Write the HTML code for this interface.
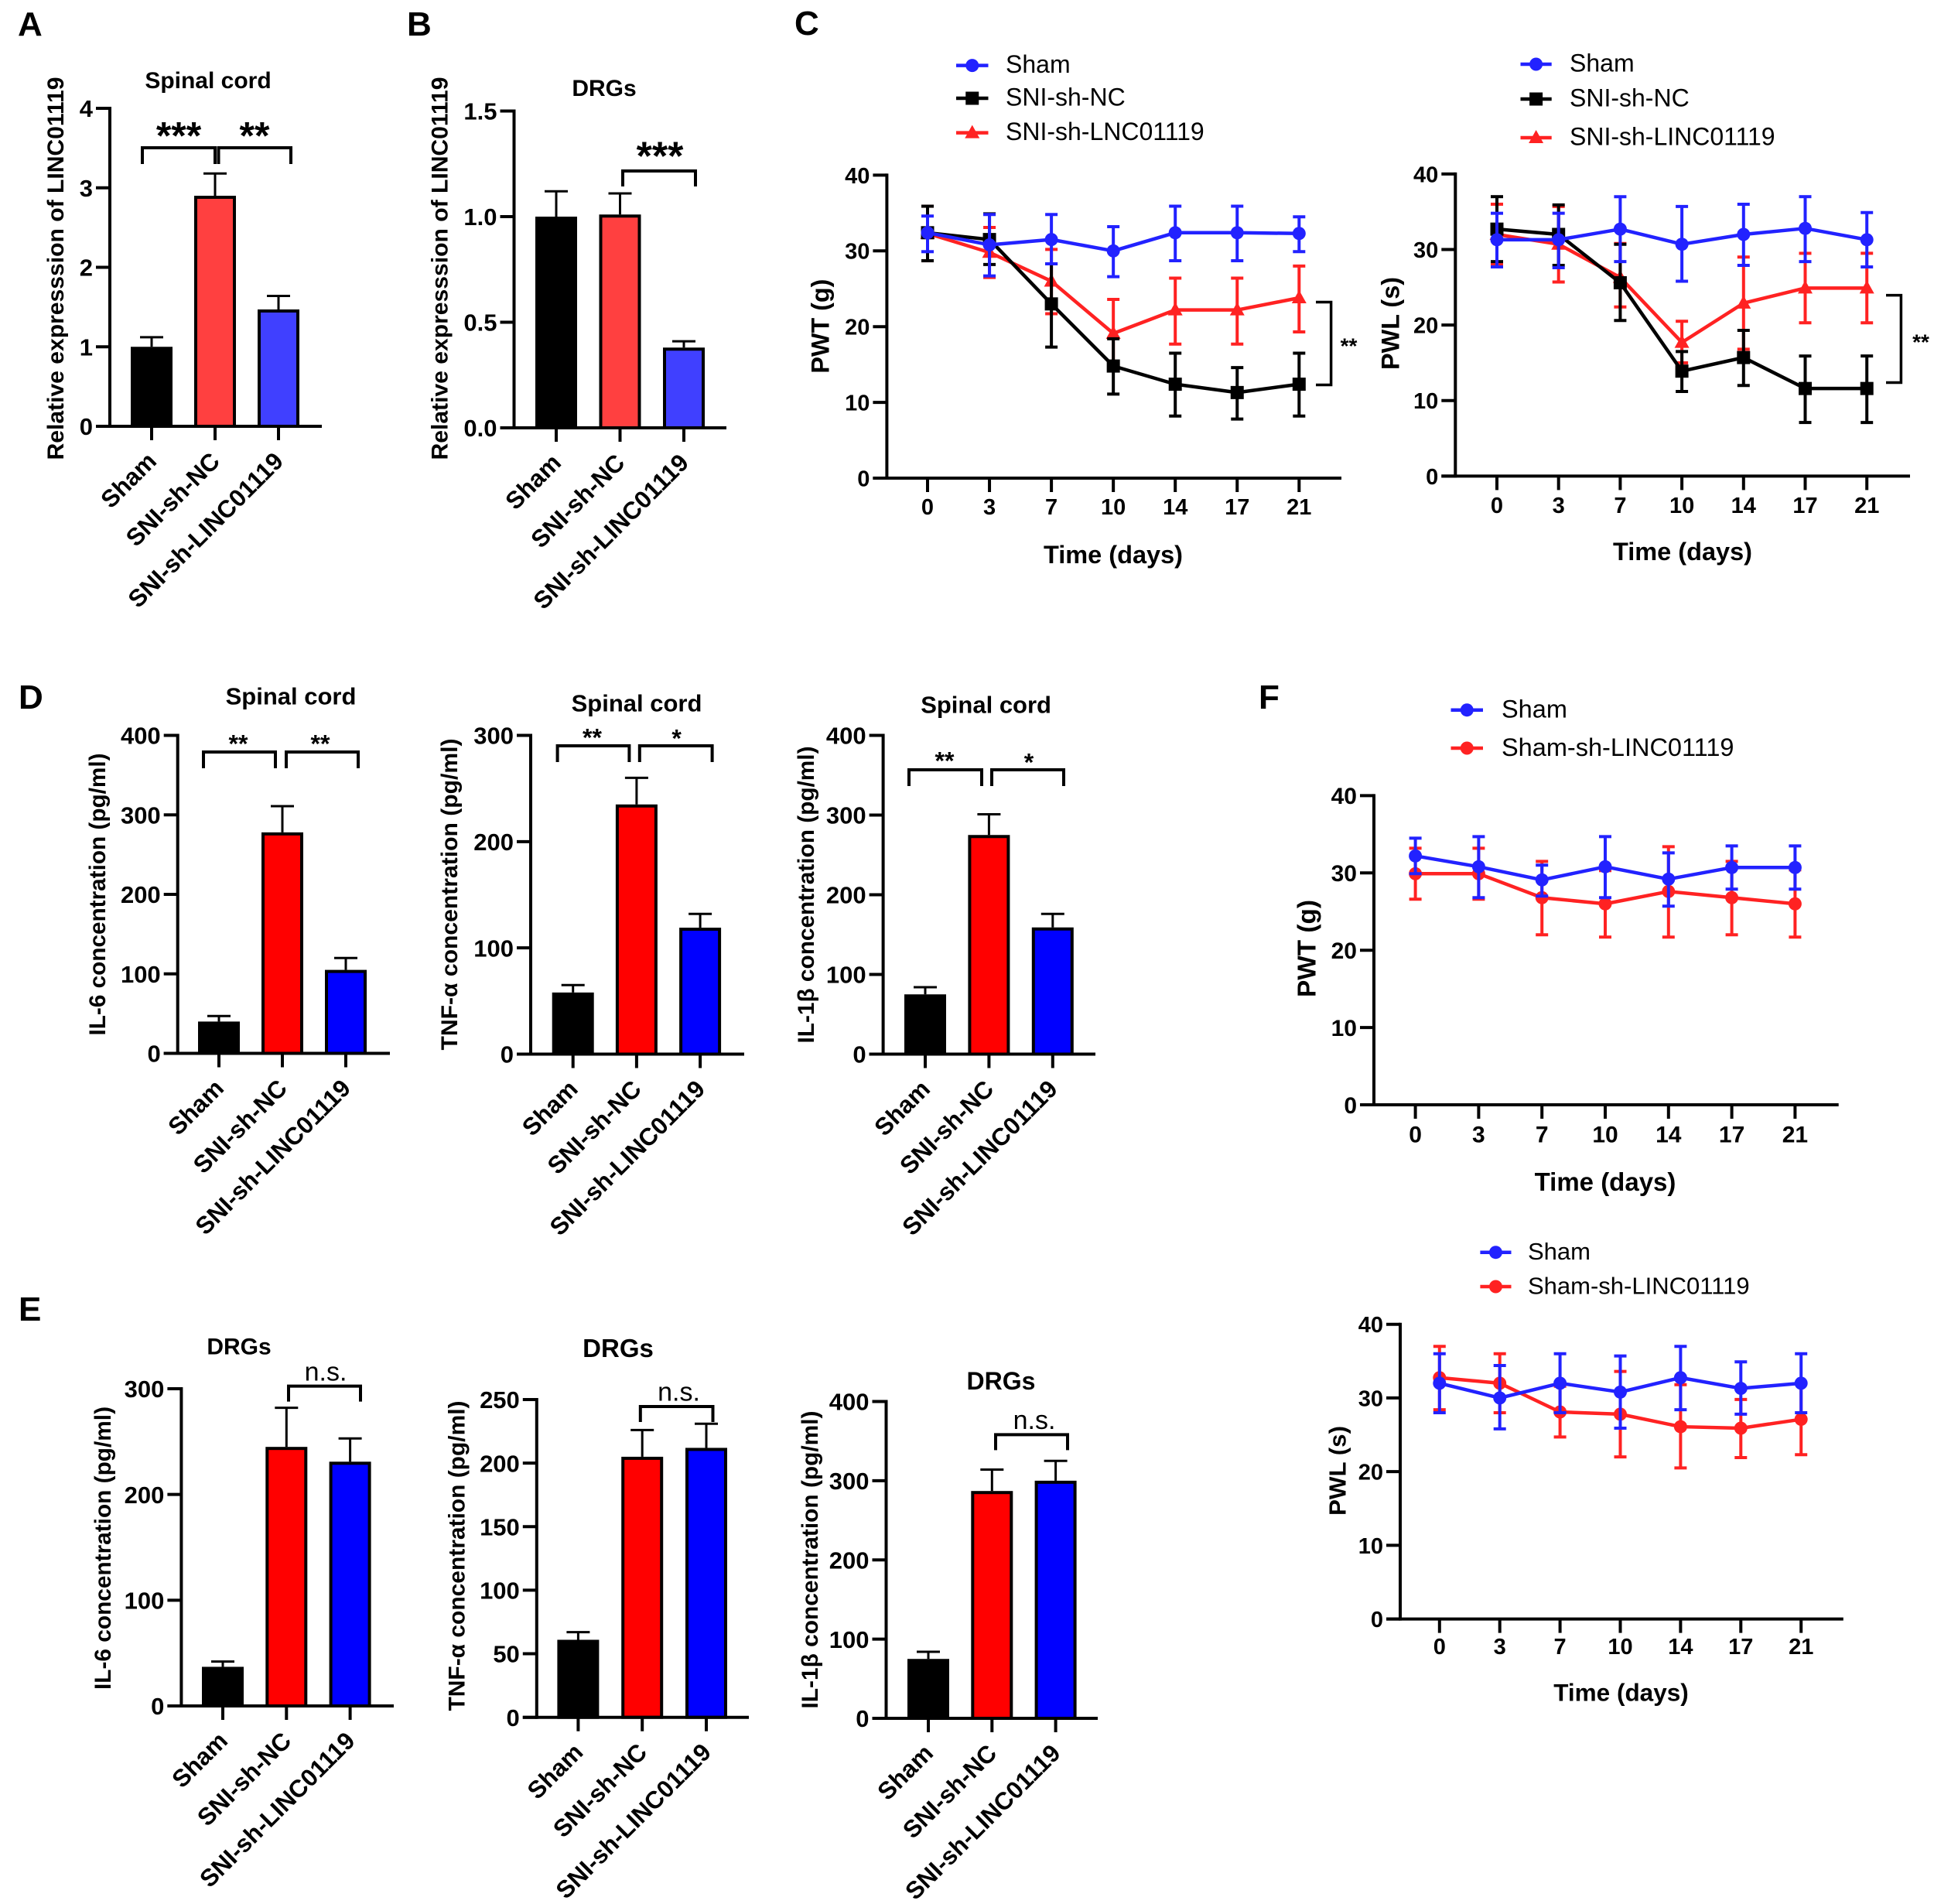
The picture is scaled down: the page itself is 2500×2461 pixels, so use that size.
<!DOCTYPE html>
<html lang="en">
<head>
<meta charset="utf-8">
<title>LINC01119 multi-panel figure</title>
<style>
html,body{margin:0;padding:0;background:#fff;}
svg{display:block;font-family:"Liberation Sans",Arial,sans-serif;}
text{fill:#000;}
</style>
</head>
<body>
<svg id="figure" xmlns="http://www.w3.org/2000/svg" width="2500" height="2461" viewBox="0 0 2500 2461">
<rect x="0" y="0" width="2500" height="2461" fill="#fff"/>
<text x="23" y="46" font-size="44" font-weight="700">A</text>
<text x="526" y="46" font-size="44" font-weight="700">B</text>
<text x="1027" y="45" font-size="44" font-weight="700">C</text>
<text x="24" y="916" font-size="44" font-weight="700">D</text>
<text x="24" y="1707" font-size="44" font-weight="700">E</text>
<text x="1627" y="916" font-size="44" font-weight="700">F</text>
</svg>
<script>
// ---------- shared categories ----------
const barCategories = ['Sham', 'SNI-sh-NC', 'SNI-sh-LINC01119'];
const timeCategories = ['0', '3', '7', '10', '14', '17', '21'];

// ---------- panel A ----------
const aValues = [1.0, 2.9, 1.47];
const aErrorTops = [1.12, 3.18, 1.64];
const aTicks = ['0', '1', '2', '3', '4'];
// ---------- panel B ----------
const bValues = [1.0, 1.01, 0.38];
const bErrorTops = [1.12, 1.11, 0.41];
const bTicks = ['0.0', '0.5', '1.0', '1.5'];
// ---------- panel D ----------
const dIl6Values = [40, 278, 105];
const dIl6ErrorTops = [47, 311, 120];
const dIl6Ticks = ['0', '100', '200', '300', '400'];
const dTnfValues = [58, 235, 119];
const dTnfErrorTops = [65, 260, 132];
const dTnfTicks = ['0', '100', '200', '300'];
const dIl1Values = [75, 275, 159];
const dIl1ErrorTops = [84, 301, 176];
const dIl1Ticks = ['0', '100', '200', '300', '400'];
// ---------- panel E ----------
const eIl6Values = [37, 245, 231];
const eIl6ErrorTops = [42, 282, 253];
const eIl6Ticks = ['0', '100', '200', '300'];
const eTnfValues = [61, 205, 212];
const eTnfErrorTops = [67, 226, 231];
const eTnfTicks = ['0', '50', '100', '150', '200', '250'];
const eIl1Values = [75, 287, 300];
const eIl1ErrorTops = [84, 314, 325];
const eIl1Ticks = ['0', '100', '200', '300', '400'];

// ---------- panel C, PWT ----------
const timeAxisTicks = ['0', '10', '20', '30', '40'];
const cPwtShamMean = [32.4, 30.8, 31.5, 30.0, 32.4, 32.4, 32.3];
const cPwtShamUpper = [34.6, 34.8, 34.8, 33.2, 35.9, 35.9, 34.5];
const cPwtShamLower = [29.9, 26.7, 28.3, 26.6, 28.7, 28.7, 29.9];
const cPwtNcMean = [32.4, 31.5, 23.0, 14.8, 12.4, 11.3, 12.4];
const cPwtNcUpper = [35.9, 34.9, 28.3, 18.4, 16.5, 14.6, 16.5];
const cPwtNcLower = [28.7, 28.2, 17.3, 11.1, 8.2, 7.8, 8.2];
const cPwtKdMean = [32.3, 29.8, 26.0, 19.1, 22.2, 22.2, 23.8];
const cPwtKdUpper = [35.9, 33.1, 30.2, 23.6, 26.4, 26.4, 28.0];
const cPwtKdLower = [28.7, 26.5, 21.7, 14.6, 17.7, 17.7, 19.3];
// ---------- panel C, PWL ----------
const cPwlShamMean = [31.3, 31.3, 32.7, 30.7, 32.0, 32.8, 31.3];
const cPwlShamUpper = [34.8, 34.8, 37.0, 35.7, 36.0, 37.0, 34.9];
const cPwlShamLower = [27.7, 27.6, 28.4, 25.8, 27.9, 28.4, 27.7];
const cPwlNcMean = [32.7, 32.0, 25.6, 13.9, 15.7, 11.6, 11.6];
const cPwlNcUpper = [37.0, 35.9, 30.7, 16.5, 19.3, 15.9, 15.9];
const cPwlNcLower = [28.4, 27.9, 20.6, 11.2, 12.0, 7.1, 7.1];
const cPwlKdMean = [32.0, 30.7, 26.3, 17.7, 22.9, 24.9, 24.9];
const cPwlKdUpper = [36.0, 35.7, 30.8, 20.5, 29.0, 29.5, 29.5];
const cPwlKdLower = [28.0, 25.7, 22.4, 15.0, 16.8, 20.3, 20.3];
// ---------- panel F, PWT ----------
const fPwtShamMean = [32.2, 30.8, 29.1, 30.8, 29.2, 30.7, 30.7];
const fPwtShamUpper = [34.5, 34.7, 31.0, 34.7, 32.6, 33.5, 33.5];
const fPwtShamLower = [29.9, 26.8, 27.0, 26.8, 25.7, 27.9, 27.9];
const fPwtKdMean = [29.9, 29.9, 26.8, 26.0, 27.6, 26.8, 26.0];
const fPwtKdUpper = [33.2, 33.2, 31.5, 30.3, 33.4, 31.5, 30.4];
const fPwtKdLower = [26.6, 26.6, 22.0, 21.7, 21.7, 22.0, 21.7];
// ---------- panel F, PWL ----------
const fPwlShamMean = [32.0, 30.0, 32.0, 30.8, 32.75, 31.3, 32.0];
const fPwlShamUpper = [36.0, 34.4, 36.0, 35.7, 37.0, 34.9, 36.0];
const fPwlShamLower = [28.0, 25.8, 28.0, 25.9, 28.4, 27.8, 28.0];
const fPwlKdMean = [32.75, 32.0, 28.1, 27.8, 26.1, 25.9, 27.1];
const fPwlKdUpper = [37.0, 36.0, 31.6, 33.6, 31.8, 29.8, 32.0];
const fPwlKdLower = [28.4, 28.0, 24.7, 22.0, 20.5, 21.9, 22.3];

const NS = 'http://www.w3.org/2000/svg';
const root = document.getElementById('figure');
const BLUE = '#2222ff', RED = '#ff2222', BLACK = '#000';

function make(parent, tag, attrs, txt) {
  const n = document.createElementNS(NS, tag);
  for (const k in attrs) n.setAttribute(k, attrs[k]);
  if (txt !== undefined) n.textContent = txt;
  parent.appendChild(n);
  return n;
}
function seg(parent, x1, y1, x2, y2, stroke, w) {
  return make(parent, 'line', {x1: x1, y1: y1, x2: x2, y2: y2, stroke: stroke, 'stroke-width': w});
}
function slug(s) { return String(s).toLowerCase().replace(/[^a-z0-9]+/g, '-'); }

function drawYAxis(g, p, yScale) {
  const axis = seg(g, p.axisX, p.baseY + 2, p.axisX, p.topY - 2, BLACK, 4);
  
  
  const xAxis = seg(g, p.axisX - 18, p.baseY, p.axisEnd, p.baseY, BLACK, 4);
  
  
  p.ticks.forEach(function (label) {
    const y = yScale(Number(label));
    const tick = seg(g, p.axisX - 18, y, p.axisX, y, BLACK, 4);
    
    
    const t = make(g, 'text', {x: p.axisX - 22, y: y + p.tickSize * 0.36, 'text-anchor': 'end', 'font-size': p.tickSize, 'font-weight': 700}, label);
    
    
  });
}
function drawYTitle(g, p) {
  const yt = p.yTitle;
  const t = make(g, 'text', {
    transform: 'translate(' + (yt.x + yt.size * 0.30) + ',' + yt.y + ') rotate(-90)',
    'text-anchor': 'middle', 'font-size': yt.size, 'font-weight': 700,
    textLength: yt.len, lengthAdjust: 'spacingAndGlyphs'
  }, yt.text);
  
  
}
function drawBracket(g, b) {
  const path = make(g, 'path', {d: 'M' + b.x1 + ' ' + (b.top + b.drop) + 'V' + b.top + 'H' + b.x2 + 'V' + (b.top + b.drop), fill: 'none', stroke: BLACK, 'stroke-width': 4});
  
  
  const isStar = b.label.indexOf('*') >= 0;
  const t = make(g, 'text', {
    x: b.lx, y: b.ly + b.size * (isStar ? 0.55 : 0.25), 'text-anchor': 'middle',
    'font-size': b.size, 'font-weight': isStar ? 700 : 400
  }, b.label);
  
  
}

function drawBarPanel(p) {
  const g = make(root, 'g', {});
  
  
  const yScale = function (v) { return p.baseY - (v / p.maxVal) * (p.baseY - p.topY); };
  const xScale = function (i) { return p.firstX + i * p.stepX; };

  p.values.forEach(function (v, i) {
    const cx = xScale(i), topV = yScale(v), topE = yScale(p.errorTops[i]);
    const err = seg(g, cx, topV, cx, topE, BLACK, 3);
    
    
    const cap = seg(g, cx - 15, topE, cx + 15, topE, BLACK, 3);
    
    
    const bar = make(g, 'rect', {x: cx - p.barW / 2 + 2, y: topV + 2, width: p.barW - 4, height: p.baseY - topV - 2, fill: p.colors[i], stroke: BLACK, 'stroke-width': 4});
    
    
    const tick = seg(g, cx, p.baseY, cx, p.baseY + 18, BLACK, 4);
    
    
    const lx = cx + 8, ly = p.baseY + 47;
    const t = make(g, 'text', {transform: 'translate(' + lx + ',' + ly + ') rotate(-45)', 'text-anchor': 'end', 'font-size': 31.5, 'font-weight': 700}, barCategories[i]);
    
    
  });
  drawYAxis(g, p, yScale);
  drawYTitle(g, p);
  const title = make(g, 'text', {x: p.title.x, y: p.title.y + p.title.size * 0.30, 'text-anchor': 'middle', 'font-size': p.title.size, 'font-weight': 700}, p.title.text);
  
  
  p.brackets.forEach(function (b) { drawBracket(g, b); });
}

function drawMarker(g, kind, x, y, color) {
  if (kind === 'circle') return make(g, 'circle', {cx: x, cy: y, r: 8.5, fill: color});
  if (kind === 'square') return make(g, 'rect', {x: x - 8.5, y: y - 8.5, width: 17, height: 17, fill: color});
  return make(g, 'path', {d: 'M' + x + ' ' + (y - 10) + 'L' + (x + 9.5) + ' ' + (y + 7) + 'H' + (x - 9.5) + 'Z', fill: color});
}

function drawLinePanel(p) {
  const g = make(root, 'g', {});
  
  
  const yScale = function (v) { return p.baseY - (v / p.maxVal) * (p.baseY - p.topY); };
  const xScale = function (i) { return p.firstX + i * p.stepX; };

  timeCategories.forEach(function (label, i) {
    const x = xScale(i);
    const tick = seg(g, x, p.baseY, x, p.baseY + 18, BLACK, 4);
    
    
    const t = make(g, 'text', {x: x, y: p.xTickY + p.tickSize * 0.31, 'text-anchor': 'middle', 'font-size': p.tickSize, 'font-weight': 700}, label);
    
    
  });
  drawYAxis(g, p, yScale);
  drawYTitle(g, p);
  const xt = make(g, 'text', {x: p.xTitle.x, y: p.xTitle.y + p.xTitle.size * 0.30, 'text-anchor': 'middle', 'font-size': p.xTitle.size, 'font-weight': 700}, 'Time (days)');
  
  

  p.series.forEach(function (s) {
    const sg = make(g, 'g', {});
    
    
    s.mean.forEach(function (v, i) {
      const x = xScale(i), up = yScale(s.upper[i]), lo = yScale(s.lower[i]);
      const e = seg(sg, x, up, x, lo, s.color, 4);
      
      
      const c1 = seg(sg, x - 8, up, x + 8, up, s.color, 4);
      
      
      const c2 = seg(sg, x - 8, lo, x + 8, lo, s.color, 4);
      
      
    });
    const line = make(sg, 'polyline', {
      points: s.mean.map(function (v, i) { return xScale(i) + ',' + yScale(v); }).join(' '),
      fill: 'none', stroke: s.color, 'stroke-width': 4.5, 'stroke-linejoin': 'round'
    });
    
    
    s.mean.forEach(function (v, i) {
      const m = drawMarker(sg, s.marker, xScale(i), yScale(v), s.color);
      
      
    });
  });

  p.legend.rows.forEach(function (row) {
    const lg = make(g, 'g', {});
    
    
    const l = seg(lg, p.legend.x1, row.y, p.legend.x2, row.y, row.color, 4.5);
    
    
    const m = drawMarker(lg, row.marker, (p.legend.x1 + p.legend.x2) / 2, row.y, row.color);
    
    
    const t = make(lg, 'text', {x: p.legend.tx, y: row.y + p.legend.size * 0.30, 'font-size': p.legend.size}, row.text);
    
    
  });

  if (p.sideBracket) {
    const sb = p.sideBracket;
    const path = make(g, 'path', {d: 'M' + sb.x1 + ' ' + sb.y1 + 'H' + sb.x2 + 'V' + sb.y2 + 'H' + sb.x1, fill: 'none', stroke: BLACK, 'stroke-width': 3.5});
    
    
    const t = make(g, 'text', {x: sb.lx, y: sb.ly + 28 * 0.55, 'text-anchor': 'middle', 'font-size': 28, 'font-weight': 700}, '**');
    
    
  }
}

const lightColors = [BLACK, '#ff4040', '#4040ff'];
const pureColors = [BLACK, '#ff0000', '#0000ff'];

drawBarPanel({name: 'panel-a-spinal-cord', axisX: 142, axisEnd: 416, baseY: 551, topY: 140, maxVal: 4, firstX: 196, stepX: 82, barW: 54,
  values: aValues, errorTops: aErrorTops, ticks: aTicks, tickSize: 31, colors: lightColors,
  title: {text: 'Spinal cord', x: 269, y: 105, size: 30},
  yTitle: {text: 'Relative expresssion of LINC01119', x: 73, y: 347, len: 495, size: 30},
  brackets: [
    {x1: 184, x2: 278, top: 191, drop: 21, label: '***', lx: 231, ly: 165, size: 50},
    {x1: 282.5, x2: 376, top: 191, drop: 21, label: '**', lx: 329, ly: 165, size: 50}
  ]});
drawBarPanel({name: 'panel-b-drgs', axisX: 664.5, axisEnd: 939, baseY: 553, topY: 143.5, maxVal: 1.5, firstX: 719, stepX: 82.5, barW: 54,
  values: bValues, errorTops: bErrorTops, ticks: bTicks, tickSize: 31, colors: lightColors,
  title: {text: 'DRGs', x: 781, y: 115, size: 30},
  yTitle: {text: 'Relative expresssion of LINC01119', x: 569.5, y: 347, len: 495, size: 30},
  brackets: [{x1: 805, x2: 899, top: 221, drop: 20, label: '***', lx: 853, ly: 191, size: 52}]});

drawBarPanel({name: 'panel-d-il6', axisX: 229.7, axisEnd: 504, baseY: 1361.5, topY: 950.5, maxVal: 400, firstX: 283, stepX: 82, barW: 54,
  values: dIl6Values, errorTops: dIl6ErrorTops, ticks: dIl6Ticks, tickSize: 31, colors: pureColors,
  title: {text: 'Spinal cord', x: 376, y: 901, size: 31},
  yTitle: {text: 'IL-6 concentration (pg/ml)', x: 127, y: 1156, len: 365, size: 30},
  brackets: [
    {x1: 263, x2: 356, top: 972, drop: 21, label: '**', lx: 308, ly: 955, size: 32},
    {x1: 370, x2: 463, top: 972, drop: 21, label: '**', lx: 414, ly: 955, size: 32}
  ]});
drawBarPanel({name: 'panel-d-tnf', axisX: 686, axisEnd: 962, baseY: 1362.5, topY: 950.5, maxVal: 300, firstX: 740.7, stepX: 82.2, barW: 54,
  values: dTnfValues, errorTops: dTnfErrorTops, ticks: dTnfTicks, tickSize: 31, colors: pureColors,
  title: {text: 'Spinal cord', x: 823, y: 910, size: 31},
  yTitle: {text: 'TNF-\u03b1 concentration (pg/ml)', x: 582, y: 1156, len: 403, size: 30},
  brackets: [
    {x1: 720.6, x2: 813.4, top: 964, drop: 21, label: '**', lx: 765.5, ly: 947, size: 32},
    {x1: 826.8, x2: 920.6, top: 964, drop: 21, label: '*', lx: 874.6, ly: 948, size: 32}
  ]});
drawBarPanel({name: 'panel-d-il1b', axisX: 1141.6, axisEnd: 1416, baseY: 1362.5, topY: 950.5, maxVal: 400, firstX: 1196, stepX: 82.4, barW: 54,
  values: dIl1Values, errorTops: dIl1ErrorTops, ticks: dIl1Ticks, tickSize: 31, colors: pureColors,
  title: {text: 'Spinal cord', x: 1274.6, y: 912, size: 31},
  yTitle: {text: 'IL-1\u03b2 concentration (pg/ml)', x: 1043, y: 1156.5, len: 384, size: 30},
  brackets: [
    {x1: 1175, x2: 1269, top: 995, drop: 21, label: '**', lx: 1221, ly: 977, size: 32},
    {x1: 1282, x2: 1375, top: 995, drop: 21, label: '*', lx: 1330, ly: 979, size: 32}
  ]});

drawBarPanel({name: 'panel-e-il6', axisX: 234.4, axisEnd: 509, baseY: 2205, topY: 1795, maxVal: 300, firstX: 288, stepX: 82.3, barW: 54,
  values: eIl6Values, errorTops: eIl6ErrorTops, ticks: eIl6Ticks, tickSize: 31, colors: pureColors,
  title: {text: 'DRGs', x: 309, y: 1741.6, size: 30},
  yTitle: {text: 'IL-6 concentration (pg/ml)', x: 134, y: 2001, len: 366, size: 30},
  brackets: [{x1: 373, x2: 466, top: 1791.6, drop: 20, label: 'n.s.', lx: 421, ly: 1776, size: 34}]});
drawBarPanel({name: 'panel-e-tnf', axisX: 693.8, axisEnd: 968, baseY: 2219.7, topY: 1809, maxVal: 250, firstX: 747.4, stepX: 82.8, barW: 54,
  values: eTnfValues, errorTops: eTnfErrorTops, ticks: eTnfTicks, tickSize: 31, colors: pureColors,
  title: {text: 'DRGs', x: 799, y: 1744, size: 33},
  yTitle: {text: 'TNF-\u03b1 concentration (pg/ml)', x: 591.4, y: 2011, len: 401, size: 30},
  brackets: [{x1: 827.8, x2: 921.5, top: 1818, drop: 20, label: 'n.s.', lx: 877.5, ly: 1802, size: 34}]});
drawBarPanel({name: 'panel-e-il1b', axisX: 1145.5, axisEnd: 1419, baseY: 2221, topY: 1811.5, maxVal: 400, firstX: 1200, stepX: 82.3, barW: 54,
  values: eIl1Values, errorTops: eIl1ErrorTops, ticks: eIl1Ticks, tickSize: 31, colors: pureColors,
  title: {text: 'DRGs', x: 1294, y: 1786.5, size: 32},
  yTitle: {text: 'IL-1\u03b2 concentration (pg/ml)', x: 1048, y: 2016, len: 385, size: 30},
  brackets: [{x1: 1287, x2: 1380, top: 1854.4, drop: 20, label: 'n.s.', lx: 1337, ly: 1838.6, size: 34}]});

drawLinePanel({name: 'panel-c-pwt', axisX: 1146.4, axisEnd: 1734, baseY: 618, topY: 226.4, maxVal: 40, firstX: 1199, stepX: 80.05,
  ticks: timeAxisTicks, tickSize: 29, xTickY: 656,
  yTitle: {text: 'PWT (g)', x: 1062, y: 421.6, len: 122, size: 32},
  xTitle: {x: 1439, y: 718, size: 32.5},
  series: [
    {label: 'SNI-sh-LNC01119', color: RED, marker: 'triangle', mean: cPwtKdMean, upper: cPwtKdUpper, lower: cPwtKdLower},
    {label: 'SNI-sh-NC', color: BLACK, marker: 'square', mean: cPwtNcMean, upper: cPwtNcUpper, lower: cPwtNcLower},
    {label: 'Sham', color: BLUE, marker: 'circle', mean: cPwtShamMean, upper: cPwtShamUpper, lower: cPwtShamLower}
  ],
  legend: {x1: 1236, x2: 1277.5, tx: 1300, size: 32, rows: [
    {text: 'Sham', y: 84.6, color: BLUE, marker: 'circle'},
    {text: 'SNI-sh-NC', y: 127, color: BLACK, marker: 'square'},
    {text: 'SNI-sh-LNC01119', y: 171.6, color: RED, marker: 'triangle'}
  ]},
  sideBracket: {x1: 1701, x2: 1720.6, y1: 390.5, y2: 497.5, lx: 1743.5, ly: 441}});

drawLinePanel({name: 'panel-c-pwl', axisX: 1881.3, axisEnd: 2469, baseY: 615.4, topY: 224.9, maxVal: 40, firstX: 1935, stepX: 79.7,
  ticks: timeAxisTicks, tickSize: 29, xTickY: 654,
  yTitle: {text: 'PWL (s)', x: 1799, y: 418, len: 120, size: 32},
  xTitle: {x: 2175, y: 714, size: 32.5},
  series: [
    {label: 'SNI-sh-LINC01119', color: RED, marker: 'triangle', mean: cPwlKdMean, upper: cPwlKdUpper, lower: cPwlKdLower},
    {label: 'SNI-sh-NC', color: BLACK, marker: 'square', mean: cPwlNcMean, upper: cPwlNcUpper, lower: cPwlNcLower},
    {label: 'Sham', color: BLUE, marker: 'circle', mean: cPwlShamMean, upper: cPwlShamUpper, lower: cPwlShamLower}
  ],
  legend: {x1: 1965.5, x2: 2005.7, tx: 2029, size: 32, rows: [
    {text: 'Sham', y: 83, color: BLUE, marker: 'circle'},
    {text: 'SNI-sh-NC', y: 128, color: BLACK, marker: 'square'},
    {text: 'SNI-sh-LINC01119', y: 178, color: RED, marker: 'triangle'}
  ]},
  sideBracket: {x1: 2438, x2: 2457.4, y1: 381.6, y2: 494.5, lx: 2483, ly: 436}});

drawLinePanel({name: 'panel-f-pwt', axisX: 1776, axisEnd: 2376.7, baseY: 1428, topY: 1028.4, maxVal: 40, firstX: 1829.6, stepX: 81.8,
  ticks: timeAxisTicks, tickSize: 30, xTickY: 1467,
  yTitle: {text: 'PWT (g)', x: 1690.7, y: 1226, len: 126, size: 33},
  xTitle: {x: 2075, y: 1529, size: 33},
  series: [
    {label: 'Sham-sh-LINC01119', color: RED, marker: 'circle', mean: fPwtKdMean, upper: fPwtKdUpper, lower: fPwtKdLower},
    {label: 'Sham', color: BLUE, marker: 'circle', mean: fPwtShamMean, upper: fPwtShamUpper, lower: fPwtShamLower}
  ],
  legend: {x1: 1875.5, x2: 1917, tx: 1941, size: 32.5, rows: [
    {text: 'Sham', y: 917.7, color: BLUE, marker: 'circle'},
    {text: 'Sham-sh-LINC01119', y: 967, color: RED, marker: 'circle'}
  ]}});

drawLinePanel({name: 'panel-f-pwl', axisX: 1810, axisEnd: 2382.8, baseY: 2092.6, topY: 1711.7, maxVal: 40, firstX: 1860.8, stepX: 77.9,
  ticks: timeAxisTicks, tickSize: 29, xTickY: 2129,
  yTitle: {text: 'PWL (s)', x: 1730, y: 1901, len: 116, size: 31},
  xTitle: {x: 2095.5, y: 2189, size: 31.5},
  series: [
    {label: 'Sham-sh-LINC01119', color: RED, marker: 'circle', mean: fPwlKdMean, upper: fPwlKdUpper, lower: fPwlKdLower},
    {label: 'Sham', color: BLUE, marker: 'circle', mean: fPwlShamMean, upper: fPwlShamUpper, lower: fPwlShamLower}
  ],
  legend: {x1: 1913.4, x2: 1953.5, tx: 1975, size: 31, rows: [
    {text: 'Sham', y: 1618.7, color: BLUE, marker: 'circle'},
    {text: 'Sham-sh-LINC01119', y: 1663, color: RED, marker: 'circle'}
  ]}});
</script>
</body>
</html>
